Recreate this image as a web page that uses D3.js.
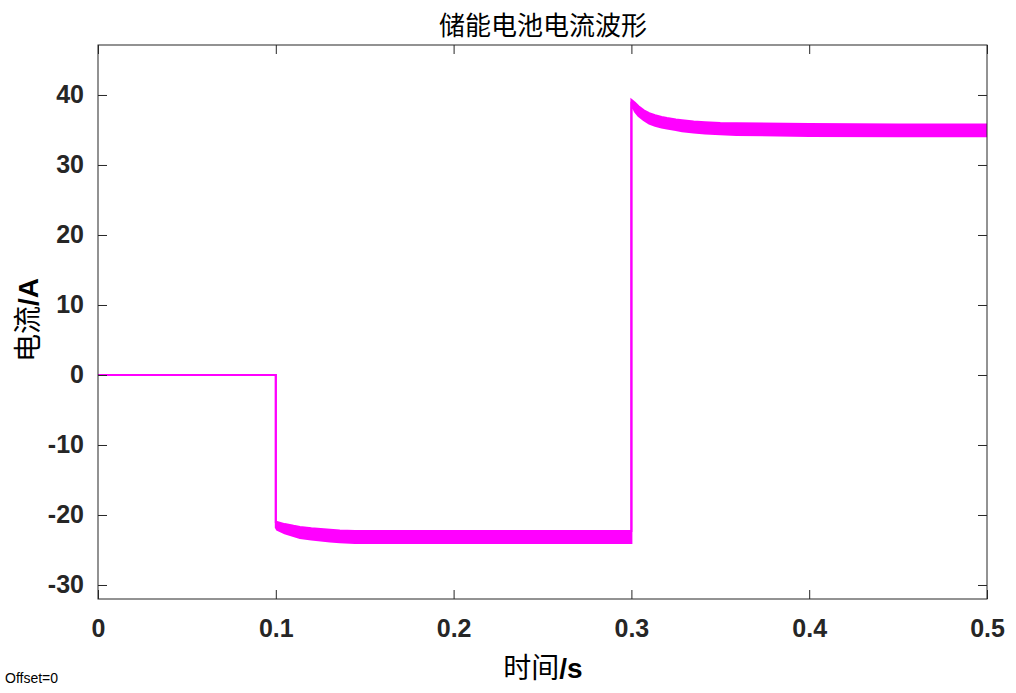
<!DOCTYPE html>
<html><head><meta charset="utf-8">
<script src="https://cdn.jsdelivr.net/npm/d3@7"></script>
<style>body{margin:0;background:#fff}svg{display:block}</style>
</head><body><svg id="c" width="1016" height="693"></svg>
<script>
const timeS =  [0, 0.1, 0.1, 0.1007, 0.105, 0.11, 0.1136, 0.12, 0.1305, 0.136, 0.1445, 0.2, 0.25, 0.3, 0.3, 0.3005, 0.302, 0.304, 0.307, 0.31, 0.3133, 0.317, 0.32, 0.325, 0.3285, 0.335, 0.3414, 0.35, 0.359, 0.4, 0.45, 0.5];
const upperA = [0, 0, -21.0, -21.0, -21.3, -21.55, -21.7, -21.9, -22.1, -22.2, -22.3, -22.3, -22.3, -22.3, 39.3, 39.2, 38.9, 38.4, 37.8, 37.4, 37.1, 36.85, 36.7, 36.5, 36.4, 36.2, 36.1, 36.0, 35.95, 35.85, 35.8, 35.8];
const lowerA = [0, 0, -21.8, -22.1, -22.6, -23.0, -23.3, -23.5, -23.8, -23.9, -24.0, -24.0, -24.0, -24.0, 38.6, 38.4, 37.6, 37.0, 36.4, 35.9, 35.6, 35.35, 35.2, 35.0, 34.8, 34.65, 34.5, 34.4, 34.3, 34.15, 34.1, 34.1];
const xTicks = [0, 0.1, 0.2, 0.3, 0.4, 0.5];
const yTicks = [-30, -20, -10, 0, 10, 20, 30, 40];
const titleText = "储能电池电流波形";

const svg = d3.select("#c");
const L = 98, R = 987, T = 45, B = 599;
const x = d3.scaleLinear().domain([0, 0.5]).range([L, R]);
const y = d3.scaleLinear().domain([-32, 47.14]).range([B, T]);
const col = "#262626", mag = "#ff00ff";
const data = timeS.map((t, i) => ({t, u: upperA[i], l: lowerA[i]}));

const g = svg.append("g");
g.append("path").datum(data)
  .attr("d", d3.area().x(d => x(d.t)).y0(d => y(d.l)).y1(d => y(d.u)))
  .attr("fill", mag);
g.append("path").datum(data)
  .attr("d", d3.line().x(d => x(d.t)).y(d => y(d.u)))
  .attr("fill", "none").attr("stroke", mag).attr("stroke-width", 2);
g.append("path").datum(data)
  .attr("d", d3.line().x(d => x(d.t)).y(d => y(d.l)))
  .attr("fill", "none").attr("stroke", mag).attr("stroke-width", 2);

const tl = 9;
const font = "'Liberation Sans', Arial, sans-serif";
const fmt = d => String(d);
const axB = svg.append("g").attr("transform", `translate(0,${B})`)
  .call(d3.axisBottom(x).tickValues(xTicks).tickSize(-tl).tickPadding(20).tickFormat(fmt));
const axT = svg.append("g").attr("transform", `translate(0,${T})`)
  .call(d3.axisTop(x).tickValues(xTicks).tickSize(-tl).tickFormat(""));
const axL = svg.append("g").attr("transform", `translate(${L},0)`)
  .call(d3.axisLeft(y).tickValues(yTicks).tickSize(-tl).tickPadding(14).tickFormat(fmt));
const axR = svg.append("g").attr("transform", `translate(${R},0)`)
  .call(d3.axisRight(y).tickValues(yTicks).tickSize(-tl).tickFormat(""));
[axB, axT, axL, axR].forEach(a => {
  a.select(".domain").remove();
  a.selectAll("line").attr("stroke", col).attr("stroke-width", 1);
  a.selectAll("text").attr("fill", col).style("font-family", font)
    .style("font-size", "25px").style("font-weight", "bold");
});
svg.append("rect").attr("x", L).attr("y", T).attr("width", R - L).attr("height", B - T)
  .attr("fill", "none").attr("stroke", col).attr("stroke-width", 1);

const cjk = "'Noto Sans CJK SC', sans-serif";
svg.append("text").attr("x", 543).attr("y", 35).attr("text-anchor", "middle")
  .style("font-family", cjk).style("font-size", "26px").attr("fill", "#000").text(titleText);

const xl = svg.append("text").attr("x", 543).attr("y", 678).attr("text-anchor", "middle")
  .style("font-size", "28px").attr("fill", "#000");
xl.append("tspan").style("font-family", cjk).text("时间");
xl.append("tspan").style("font-family", font).style("font-weight", "bold").text("/s");

const yl = svg.append("text").attr("transform", "translate(38,320) rotate(-90)").attr("text-anchor", "middle")
  .style("font-size", "28px").attr("fill", "#000");
yl.append("tspan").style("font-family", cjk).text("电流");
yl.append("tspan").style("font-family", font).style("font-weight", "bold").text("/A");

svg.append("text").attr("x", 5).attr("y", 683).style("font-family", "'Liberation Sans', Arial, sans-serif")
  .style("font-size", "14px").attr("fill", "#000").text("Offset=0");
</script></body></html>
